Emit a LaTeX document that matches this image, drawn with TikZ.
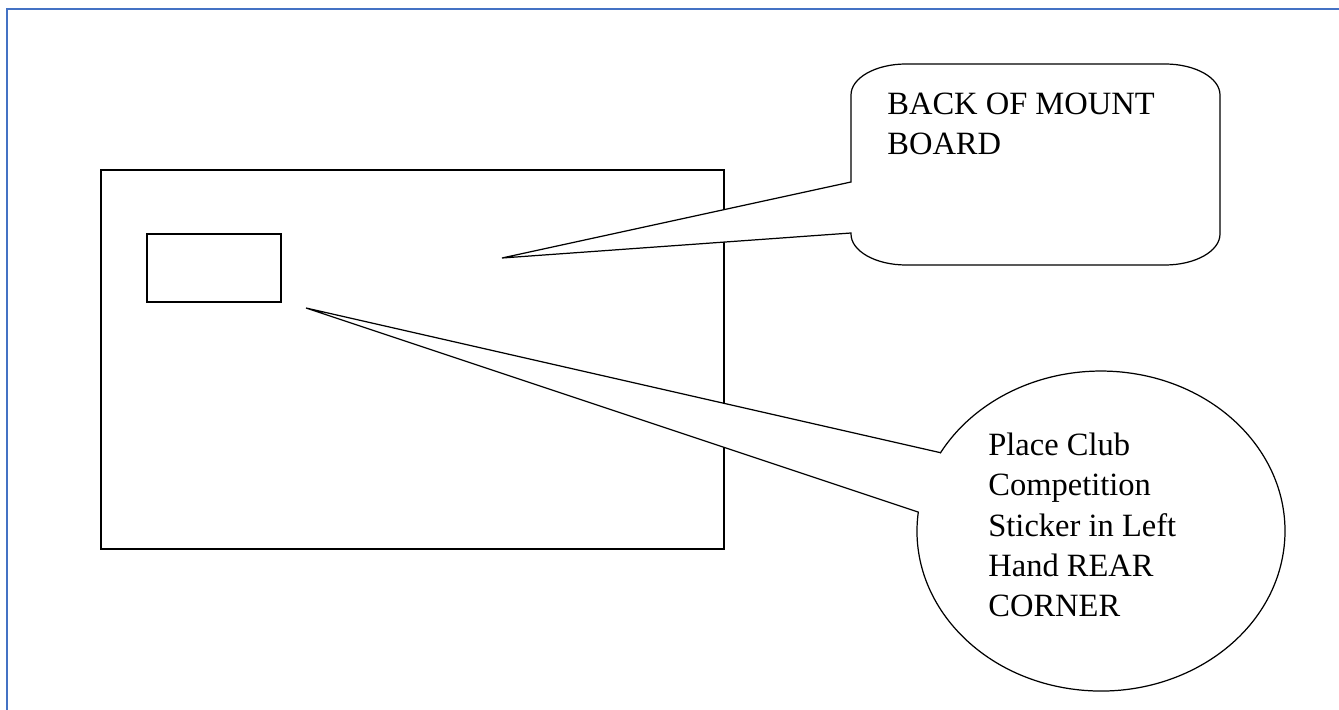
\documentclass[tikz,border=0pt]{standalone}
\usepackage{fontspec}
\setmainfont{Liberation Serif}
\usepackage{tikz}
\definecolor{frameblue}{RGB}{68,114,196}
\tikzstyle{frame}=[draw=frameblue, line width=1.2pt]
\tikzstyle{board}=[draw=black, line width=1.1pt]
\tikzstyle{callout}=[draw=black, fill=white, line width=0.7pt]
\tikzstyle{words}=[anchor=north west, inner sep=0pt, align=left, font=\fontsize{18.5}{22.8}\selectfont]

\begin{document}
\begin{tikzpicture}[x=0.2mm, y=-0.2mm]
		   \useasboundingbox (0,0) rectangle (1339,710);
		   \begin{scope}
			   \coordinate (f0) at (7,710);
			   \coordinate (f1) at (7,9);
			   \coordinate (f2) at (1339,9);

			   \coordinate (boardtip) at (502,258);
			   \coordinate (boardin) at (851,182);
			   \coordinate (boardout) at (851,233);

			   \coordinate (stickc) at (1101,531);
			   \coordinate (sticktip) at (306,308);
			   \coordinate (stickin) at (940.5,452.7);
			   \coordinate (stickout) at (918.3,512.1);
		   \end{scope}
		   \draw [frame] (f0) -- (f1) -- (f2);

		   % mount board and sticker
		   \draw [board] (101,170) rectangle (724,549);
		   \draw [board] (147,234) rectangle (281,302);

		   % callouts
		   \draw [callout] (boardin) -- (boardtip) -- (boardout) -- (851,234)
			   arc [start angle=180, end angle=90, x radius=55, y radius=31] -- (1165,265)
			   arc [start angle=90, end angle=0, x radius=55, y radius=31] -- (1220,95)
			   arc [start angle=0, end angle=-90, x radius=55, y radius=31] -- (906,64)
			   arc [start angle=-90, end angle=-180, x radius=55, y radius=31] -- cycle;
		   \draw [callout] (stickin) -- (sticktip) -- (stickout)
			   arc [start angle=186.8, end angle=-150.7, x radius=184, y radius=160] -- cycle;

		   \node (backtext) at (887,93)[words] {BACK OF MOUNT\\BOARD};
		   \node (sticktext) at (988,433)[words] {Place Club\\Competition\\Sticker in Left\\Hand REAR\\CORNER};
	   \end{tikzpicture}
\end{document}
